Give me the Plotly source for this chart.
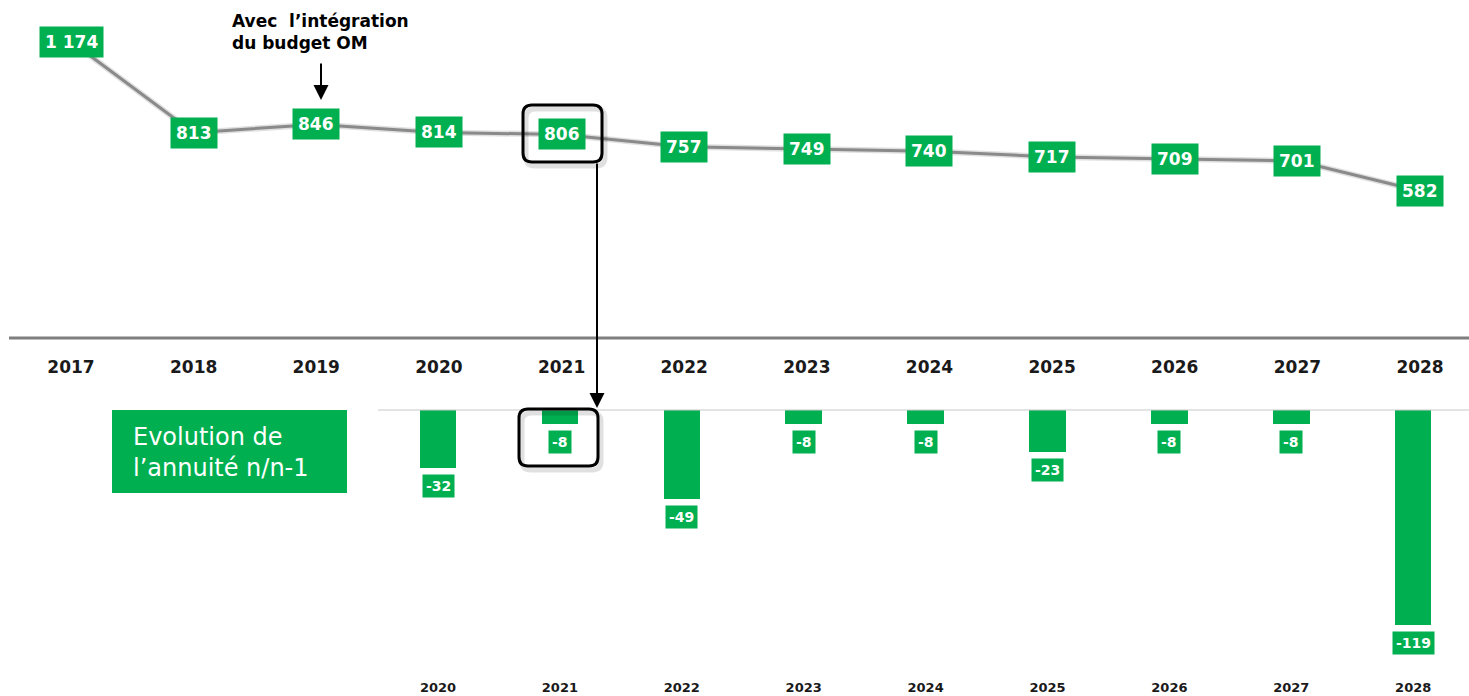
import plotly.graph_objects as go

# ---- data ----
years_top = [2017, 2018, 2019, 2020, 2021, 2022, 2023, 2024, 2025, 2026, 2027, 2028]
annuity = [1174, 813, 846, 814, 806, 757, 749, 740, 717, 709, 701, 582]
annuity_labels = ["1 174", "813", "846", "814", "806", "757", "749", "740", "717", "709", "701", "582"]

years_bot = [2020, 2021, 2022, 2023, 2024, 2025, 2026, 2027, 2028]
delta = [-32, -8, -49, -8, -8, -23, -8, -8, -119]

GREEN = "#00B050"
W, H = 1469, 696
FONT = "DejaVu Sans"


def px(x):
    return x / W


def py(y):
    return 1 - y / H


fig = go.Figure()

# line (soft shadow + line)
fig.add_trace(go.Scatter(x=years_top, y=annuity, mode="lines",
                         line=dict(color="rgba(0,0,0,0.12)", width=6),
                         xaxis="x", yaxis="y", hoverinfo="skip", showlegend=False))
fig.add_trace(go.Scatter(x=years_top, y=annuity, mode="lines",
                         line=dict(color="#8a8a8a", width=3),
                         xaxis="x", yaxis="y", showlegend=False))

# bars
fig.add_trace(go.Bar(x=years_bot, y=delta, width=0.3, marker=dict(color=GREEN, line=dict(width=0)),
                     xaxis="x2", yaxis="y2", showlegend=False))

annotations = []
for yr, v, t in zip(years_top, annuity, annuity_labels):
    annotations.append(dict(x=yr, y=v, xref="x", yref="y", text=t, showarrow=False,
                            xanchor="center", yanchor="middle", bgcolor=GREEN, borderpad=5,
                            font=dict(family=FONT, size=17, color="white", weight="bold")))
for yr, v in zip(years_bot, delta):
    annotations.append(dict(x=yr, y=v, xref="x2", yref="y2", text=str(v), showarrow=False,
                            xanchor="center", yanchor="top", yshift=-6, bgcolor=GREEN, borderpad=3,
                            font=dict(family=FONT, size=14, color="white", weight="bold")))

# note and arrows
annotations.append(dict(x=px(230), y=py(9), xref="paper", yref="paper", xanchor="left", yanchor="top",
                        text="Avec  l’intégration<br>du budget OM", align="left", showarrow=False,
                        font=dict(family=FONT, size=17, color="black", weight="bold")))
annotations.append(dict(x=px(321), y=py(100), xref="paper", yref="paper", text="", showarrow=True,
                        ax=0, ay=-38, arrowhead=2, arrowsize=1.5, arrowwidth=2, arrowcolor="black"))
annotations.append(dict(x=px(597), y=py(408), xref="paper", yref="paper", text="", showarrow=True,
                        ax=0, ay=-246, arrowhead=2, arrowsize=1.5, arrowwidth=2, arrowcolor="black"))

# green title box text
annotations.append(dict(x=px(131), y=py(452), xref="paper", yref="paper", xanchor="left", yanchor="middle",
                        text="Evolution de<br>l’annuité n/n-1", align="left", showarrow=False,
                        font=dict(family=FONT, size=24, color="white")))


def rrect(x0, y0, x1, y1, r):
    X0, X1 = px(x0), px(x1)
    Y0, Y1 = py(y0), py(y1)
    rx, ry = r / W, r / H
    return (f"M {X0+rx},{Y0} L {X1-rx},{Y0} Q {X1},{Y0} {X1},{Y0-ry} "
            f"L {X1},{Y1+ry} Q {X1},{Y1} {X1-rx},{Y1} L {X0+rx},{Y1} Q {X0},{Y1} {X0},{Y1+ry} "
            f"L {X0},{Y0-ry} Q {X0},{Y0} {X0+rx},{Y0} Z")


shapes = [
    # top axis line
    dict(type="line", xref="paper", yref="paper", x0=px(9), x1=1, y0=py(338), y1=py(338),
         line=dict(color="#7f7f7f", width=3)),
    # bottom baseline
    dict(type="line", xref="paper", yref="paper", x0=px(378), x1=1, y0=py(410), y1=py(410),
         line=dict(color="#c8c8c8", width=1)),
    # green title box
    dict(type="rect", xref="paper", yref="paper", x0=px(112), x1=px(347), y0=py(410), y1=py(493),
         fillcolor=GREEN, line=dict(width=0), layer="below"),
    # shadows of rounded boxes
    dict(type="path", xref="paper", yref="paper", path=rrect(526, 109, 605, 166, 9),
         line=dict(color="rgba(0,0,0,0.12)", width=5)),
    dict(type="path", xref="paper", yref="paper", path=rrect(522, 413, 601, 470, 9),
         line=dict(color="rgba(0,0,0,0.12)", width=5)),
    # rounded highlight boxes
    dict(type="path", xref="paper", yref="paper", path=rrect(523, 105, 602, 162, 9),
         line=dict(color="black", width=3)),
    dict(type="path", xref="paper", yref="paper", path=rrect(519, 409, 598, 466, 9),
         line=dict(color="black", width=3)),
]

# axis geometry
top_scale = 122.64
x_top_range = [2017 - 71 / top_scale, 2017 + (W - 71) / top_scale]
bot_scale = 121.9
x_bot_range = [2020 - 438 / bot_scale, 2020 + (W - 438) / bot_scale]

y_px_per_unit = 0.2525
y_top_range = [0, 338 / y_px_per_unit]
y2_px_per_unit = 1.81
y2_range = [-(665 - 410) / y2_px_per_unit, 0]

fig.update_layout(
    width=W, height=H, margin=dict(l=0, r=0, t=0, b=0),
    paper_bgcolor="white", plot_bgcolor="white",
    bargap=0, showlegend=False,
    xaxis=dict(domain=[0, 1], range=x_top_range, anchor="y", tickvals=years_top,
               ticktext=[str(y) for y in years_top], showgrid=False, zeroline=False, showline=False,
               ticks="outside", ticklen=14, tickcolor="rgba(0,0,0,0)",
               tickfont=dict(family=FONT, size=17, color="#1a1a1a", weight="bold")),
    yaxis=dict(domain=[1 - 338 / H, 1], range=y_top_range, visible=False),
    xaxis2=dict(domain=[0, 1], range=x_bot_range, anchor="y2", tickvals=years_bot,
                ticktext=[str(y) for y in years_bot], showgrid=False, zeroline=False, showline=False,
                ticks="outside", ticklen=10, tickcolor="rgba(0,0,0,0)",
                tickfont=dict(family=FONT, size=13, color="#1a1a1a", weight="bold")),
    yaxis2=dict(domain=[1 - 665 / H, 1 - 410 / H], range=y2_range, visible=False),
    annotations=annotations, shapes=shapes,
)

fig.write_html("out.html", config={"displayModeBar": False},
               post_script="document.body.style.margin='0px';document.body.style.overflow='hidden';")
